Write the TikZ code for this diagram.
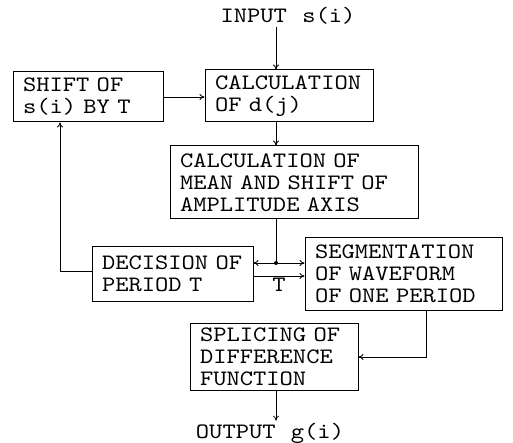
\documentclass[tikz,border=0pt]{standalone}
\usepackage{fontspec}
\usetikzlibrary{arrows.meta}
\newfontfamily\boxfont[FakeStretch=1.15, WordSpace=1.15]{lmmono10-regular.otf}

\begin{document}
\begin{tikzpicture}[x=1pt, y=-1pt, >={To[length=5pt,width=6pt]},
  every node/.style={font=\boxfont\fontsize{22}{22}\selectfont},
  blk/.style={draw, line width=1pt, align=left, inner xsep=10pt, inner ysep=0pt},
  lbl/.style={inner sep=2pt}]
  \useasboundingbox (0,0) rectangle (513,443);

  % blocks
  \node[lbl] (input) at (288,16) {INPUT s(i)};
  \node[blk, text width=130pt, minimum height=50pt] (shift) at (88,97) {SHIFT OF\\s(i) BY T};
  \node[blk, text width=148pt, minimum height=52pt] (calc) at (289,96) {CALCULATION\\OF d(j)};
  \node[blk, text width=228pt, minimum height=73pt] (mean) at (294,182.5) {CALCULATION OF\\MEAN AND SHIFT OF\\AMPLITUDE AXIS};
  \node[blk, text width=141pt, minimum height=54pt] (decision) at (172.5,274) {DECISION OF\\PERIOD T};
  \node[blk, text width=177pt, minimum height=72pt] (seg) at (403.5,274) {SEGMENTATION\\OF WAVEFORM\\OF ONE PERIOD};
  \node[blk, text width=148pt, minimum height=67pt] (splice) at (274,356.5) {SPLICING OF\\DIFFERENCE\\FUNCTION};
  \node[lbl] (output) at (270,433) {OUTPUT g(i)};

  % helper points
  \coordinate (spine) at (276,0);
  \coordinate (j) at (276,263);
  \coordinate (tline) at (0,276);
  \coordinate (fb) at (60,271);
  \coordinate (sp) at (426,357);

  % connectors
  \draw[line width=0.8pt, ->] (input.south -| spine) -- (calc.north -| spine);
  \draw[line width=0.8pt, ->] (shift.east) -- (calc.west |- shift.east);
  \draw[line width=0.8pt, ->] (calc.south -| spine) -- (mean.north -| spine);
  \draw[line width=0.8pt] (mean.south -| j) -- (j);
  \fill (j) circle (2pt);
  \draw[line width=0.8pt, ->] (j) -- (decision.east |- j);
  \draw[line width=0.8pt, ->] (j) -- (seg.west |- j);
  \draw[line width=0.8pt, ->] (decision.east |- tline) -- node[lbl, below] (tlab) {T} (seg.west |- tline);
  \draw[line width=0.8pt, ->] (decision.west |- fb) -- (fb) -- (shift.south -| fb);
  \draw[line width=0.8pt, ->] (seg.south -| sp) -- (sp) -- (splice.east |- sp);
  \draw[line width=0.8pt, ->] (splice.south -| spine) -- (output.north -| spine);
\end{tikzpicture}
\end{document}
